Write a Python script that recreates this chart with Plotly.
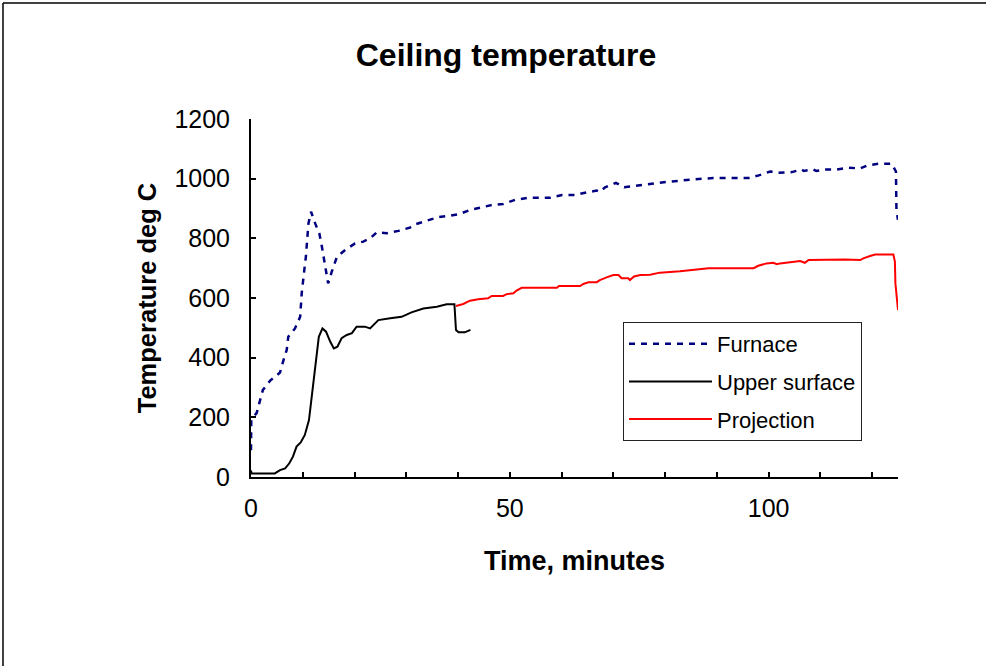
import plotly.graph_objects as go

# ---------------- data ----------------
furnace_t = [0, 0.05, 1.1, 2.3, 3.7, 5.6, 6.2, 6.9, 7.2, 8.5, 9.5, 9.8, 10.3, 10.6, 11.1, 11.6,
             12.4, 13.2, 13.7, 14.2, 14.9, 15.6, 16.6, 18.2, 20.1, 21.7, 23.0, 24.3, 26.2,
             28.5, 30.7, 31.7, 33.9, 36.2, 38.4, 40.2, 42.3, 44.2, 46.6, 48.7, 51.0, 53.6,
             57.8, 60.1, 62.5, 64.9, 66.8, 67.4, 68.4, 70.0, 70.5, 72.1, 74.5, 76.5, 78.4,
             80.6, 82.9, 85.5, 89.3, 93.8, 96.1, 98.1, 100.3, 101.9, 104.5, 106.4, 106.8,
             108.6, 109.2, 110.9, 113.2, 115.4, 117.7, 119.0, 121.2, 123.8, 124.6, 124.7, 125.0]
furnace_T = [90, 190, 215, 292, 323, 350, 387, 426, 470, 498, 537, 616, 694, 738, 850, 889,
             850, 817, 772, 716, 649, 688, 738, 761, 783, 789, 800, 820, 817,
             825, 836, 847, 859, 871, 876, 881, 895, 903, 912, 915, 929, 936,
             936, 945, 945, 954, 960, 956, 971, 982, 986, 971, 977, 981, 985,
             990, 993, 998, 1002, 1002, 1002, 1011, 1024, 1020, 1022, 1031, 1026,
             1031, 1026, 1031, 1031, 1037, 1034, 1044, 1050, 1050, 1024, 895, 862]

upper_t = [0, 0.1, 4.6, 5.6, 6.6, 7.4, 8.1, 8.8, 9.6, 10.4, 11.2, 11.5, 11.9, 12.4, 13.1,
           13.8, 14.5, 15.3, 16.0, 16.7, 17.5, 18.5, 19.5, 20.4, 22.0, 23.0, 24.6, 26.9,
           29.1, 31.0, 33.3, 35.9, 37.8, 39.3, 39.6, 40.1, 41.3, 42.4]
upper_T = [22, 12, 12, 23, 29, 46, 68, 102, 116, 141, 191, 236, 292, 381, 470,
           498, 487, 454, 431, 437, 465, 476, 482, 504, 504, 498, 526, 532,
           537, 552, 565, 571, 579, 579, 493, 485, 485, 493]

proj_t = [39.6, 41.0, 42.3, 43.9, 45.8, 46.5, 48.7, 49.4, 50.7, 51.3, 52.3, 59.1, 59.5,
          63.6, 64.2, 65.2, 66.8, 67.4, 68.7, 70.0, 71.0, 71.6, 72.9, 73.2, 74.0, 75.2,
          77.1, 79.0, 82.9, 88.4, 97.1, 98.0, 99.6, 100.9, 101.6, 102.2, 106.1, 107.0,
          107.7, 114.8, 117.7, 118.3, 119.6, 120.6, 124.1, 124.4, 124.5, 124.8, 125.0]
proj_T = [573, 580, 591, 596, 599, 607, 607, 613, 616, 625, 634, 634, 640,
          640, 647, 653, 653, 660, 669, 677, 677, 666, 666, 660, 672, 677,
          678, 685, 690, 700, 700, 708, 716, 718, 713, 716, 724, 718,
          727, 729, 727, 733, 741, 746, 746, 722, 649, 604, 560]

series_names = ["Furnace", "Upper surface", "Projection"]
x_tick_values = [0, 10, 20, 30, 40, 50, 60, 70, 80, 90, 100, 110, 120]
x_tick_labels = ["0", "", "", "", "", "50", "", "", "", "", "100", "", ""]
y_tick_values = [0, 200, 400, 600, 800, 1000, 1200]

# ---------------- figure ----------------
FONT = "Liberation Sans, Arial, sans-serif"
fig = go.Figure()
fig.add_trace(go.Scatter(x=furnace_t, y=furnace_T, mode="lines", name=series_names[0],
                         legendgroup="a",
                         line=dict(color="#000080", width=2.5, dash="6px,6px")))
fig.add_trace(go.Scatter(x=upper_t, y=upper_T, mode="lines", name=series_names[1],
                         legendgroup="b",
                         line=dict(color="#000000", width=2)))
fig.add_trace(go.Scatter(x=proj_t, y=proj_T, mode="lines", name=series_names[2],
                         legendgroup="c",
                         line=dict(color="#ff0000", width=2)))

W, H = 986, 666
L, R, T, B = 251, 898, 119, 477
pw, ph = R - L, B - T


def px_x(p):
    return (p - L) / pw


def px_y(p):
    return (B - p) / ph


fig.update_layout(
    width=W, height=H,
    margin=dict(l=L, r=W - R, t=T, b=H - B),
    paper_bgcolor="white", plot_bgcolor="white",
    font=dict(family=FONT, color="black"),
    title=dict(text="<b>Ceiling temperature</b>", x=506 / W, xref="container",
               xanchor="center", y=1 - 55 / H, yref="container", yanchor="middle",
               font=dict(size=32, family=FONT, color="black")),
    showlegend=True,
    legend=dict(x=px_x(623), y=px_y(322), xanchor="left", yanchor="top",
                bgcolor="white", bordercolor="#222222", borderwidth=1,
                font=dict(size=22, family=FONT, color="black"),
                itemwidth=83, tracegroupgap=6, traceorder="grouped"),
    xaxis=dict(range=[0, 125], tickmode="array", tickvals=x_tick_values,
               ticktext=x_tick_labels, ticks="inside", ticklen=5, tickwidth=1.5,
               tickcolor="black", showline=True, linecolor="black", linewidth=2,
               showgrid=False, zeroline=False, ticklabelstandoff=8,
               tickfont=dict(size=25, family=FONT, color="black"),
               title=dict(text="<b>Time, minutes</b>", standoff=30,
                          font=dict(size=27, family=FONT, color="black"))),
    yaxis=dict(range=[0, 1200], tickmode="array", tickvals=y_tick_values,
               ticks="inside", ticklen=5, tickwidth=1.5, tickcolor="black",
               showline=True, linecolor="black", linewidth=2,
               showgrid=False, zeroline=False, ticklabelstandoff=14,
               tickfont=dict(size=25, family=FONT, color="black"),
               title=dict(text="<b>Temperature deg C</b>", standoff=10,
                          font=dict(size=25.5, family=FONT, color="black"))),
)

# outer frame of the original chart area (top and left edges visible)
fig.add_shape(type="line", xref="paper", yref="paper",
              x0=px_x(3), x1=px_x(990), y0=px_y(3), y1=px_y(3),
              line=dict(color="black", width=1.5))
fig.add_shape(type="line", xref="paper", yref="paper",
              x0=px_x(3), x1=px_x(3), y0=px_y(3), y1=px_y(670),
              line=dict(color="black", width=1.5))

# the page's default body margin would shift the figure by 8px
fig.write_html("out.html", config={"displayModeBar": False},
               post_script="document.body.style.margin='0';document.body.style.overflow='hidden';")
